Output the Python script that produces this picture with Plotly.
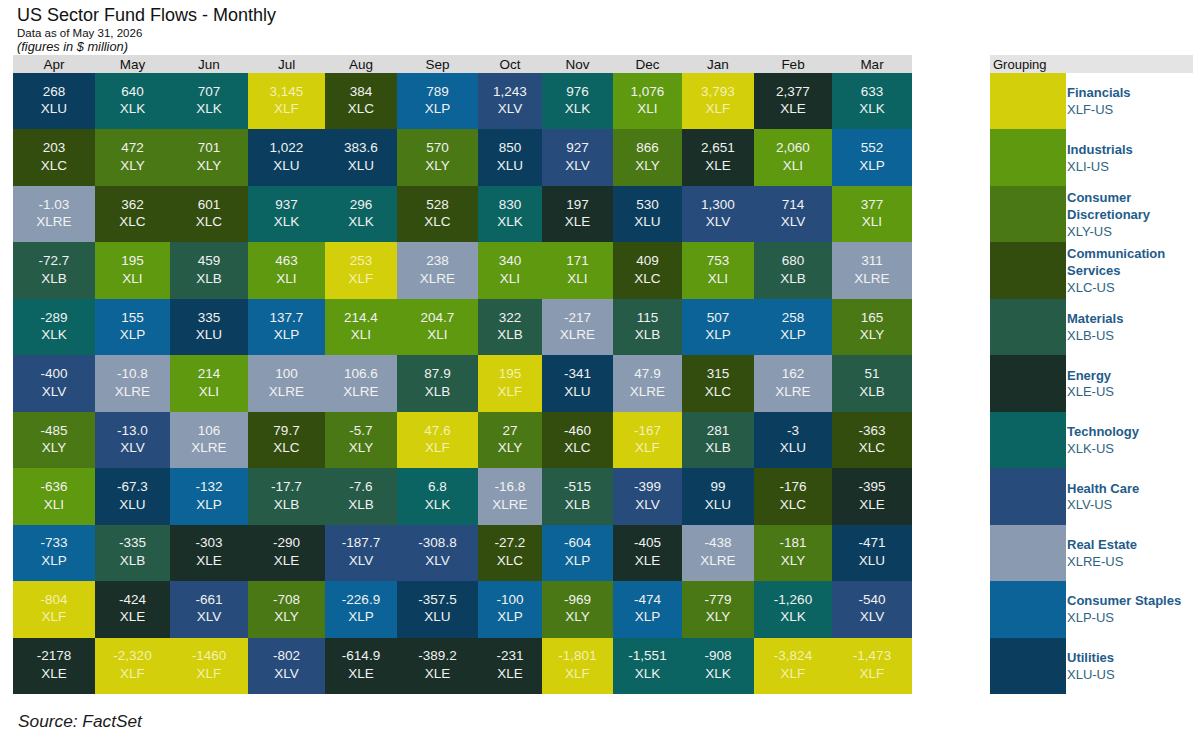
import plotly.graph_objects as go

# Monthly flows per sector ETF, ranked top to bottom within each month
MONTHS = ["Apr", "May", "Jun", "Jul", "Aug", "Sep", "Oct", "Nov", "Dec", "Jan", "Feb", "Mar"]

apr_flow = ["268", "203", "-1.03", "-72.7", "-289", "-400", "-485", "-636", "-733", "-804", "-2178"]
apr_etf = ["XLU", "XLC", "XLRE", "XLB", "XLK", "XLV", "XLY", "XLI", "XLP", "XLF", "XLE"]
may_flow = ["640", "472", "362", "195", "155", "-10.8", "-13.0", "-67.3", "-335", "-424", "-2,320"]
may_etf = ["XLK", "XLY", "XLC", "XLI", "XLP", "XLRE", "XLV", "XLU", "XLB", "XLE", "XLF"]
jun_flow = ["707", "701", "601", "459", "335", "214", "106", "-132", "-303", "-661", "-1460"]
jun_etf = ["XLK", "XLY", "XLC", "XLB", "XLU", "XLI", "XLRE", "XLP", "XLE", "XLV", "XLF"]
jul_flow = ["3,145", "1,022", "937", "463", "137.7", "100", "79.7", "-17.7", "-290", "-708", "-802"]
jul_etf = ["XLF", "XLU", "XLK", "XLI", "XLP", "XLRE", "XLC", "XLB", "XLE", "XLY", "XLV"]
aug_flow = ["384", "383.6", "296", "253", "214.4", "106.6", "-5.7", "-7.6", "-187.7", "-226.9", "-614.9"]
aug_etf = ["XLC", "XLU", "XLK", "XLF", "XLI", "XLRE", "XLY", "XLB", "XLV", "XLP", "XLE"]
sep_flow = ["789", "570", "528", "238", "204.7", "87.9", "47.6", "6.8", "-308.8", "-357.5", "-389.2"]
sep_etf = ["XLP", "XLY", "XLC", "XLRE", "XLI", "XLB", "XLF", "XLK", "XLV", "XLU", "XLE"]
oct_flow = ["1,243", "850", "830", "340", "322", "195", "27", "-16.8", "-27.2", "-100", "-231"]
oct_etf = ["XLV", "XLU", "XLK", "XLI", "XLB", "XLF", "XLY", "XLRE", "XLC", "XLP", "XLE"]
nov_flow = ["976", "927", "197", "171", "-217", "-341", "-460", "-515", "-604", "-969", "-1,801"]
nov_etf = ["XLK", "XLV", "XLE", "XLI", "XLRE", "XLU", "XLC", "XLB", "XLP", "XLY", "XLF"]
dec_flow = ["1,076", "866", "530", "409", "115", "47.9", "-167", "-399", "-405", "-474", "-1,551"]
dec_etf = ["XLI", "XLY", "XLU", "XLC", "XLB", "XLRE", "XLF", "XLV", "XLE", "XLP", "XLK"]
jan_flow = ["3,793", "2,651", "1,300", "753", "507", "315", "281", "99", "-438", "-779", "-908"]
jan_etf = ["XLF", "XLE", "XLV", "XLI", "XLP", "XLC", "XLB", "XLU", "XLRE", "XLY", "XLK"]
feb_flow = ["2,377", "2,060", "714", "680", "258", "162", "-3", "-176", "-181", "-1,260", "-3,824"]
feb_etf = ["XLE", "XLI", "XLV", "XLB", "XLP", "XLRE", "XLU", "XLC", "XLY", "XLK", "XLF"]
mar_flow = ["633", "552", "377", "311", "165", "51", "-363", "-395", "-471", "-540", "-1,473"]
mar_etf = ["XLK", "XLP", "XLI", "XLRE", "XLY", "XLB", "XLC", "XLE", "XLU", "XLV", "XLF"]

flows = [apr_flow, may_flow, jun_flow, jul_flow, aug_flow, sep_flow,
         oct_flow, nov_flow, dec_flow, jan_flow, feb_flow, mar_flow]
etfs = [apr_etf, may_etf, jun_etf, jul_etf, aug_etf, sep_etf,
        oct_etf, nov_etf, dec_etf, jan_etf, feb_etf, mar_etf]

SECTOR_ETFS = ["XLF", "XLI", "XLY", "XLC", "XLB", "XLE", "XLK", "XLV", "XLRE", "XLP", "XLU"]
SECTOR_NAMES = ["Financials", "Industrials", "Consumer<br>Discretionary", "Communication<br>Services",
                "Materials", "Energy", "Technology", "Health Care", "Real Estate",
                "Consumer Staples", "Utilities"]

# styling
SECTOR_COLORS = ["#d3cf0b", "#5e9910", "#4a7814", "#334d0e", "#265b48", "#192f27",
                 "#0b6461", "#274b7b", "#8a9bb1", "#0b6397", "#0b3e5e"]
COL_W = [82, 75, 78, 77, 72, 81, 64, 71, 69, 72, 78, 80]  # column widths in px
FONT = "Liberation Sans, Arial, sans-serif"
W, H = 1200, 737

n = len(SECTOR_ETFS)
n_rows = len(apr_flow)

edges = [0]
for w in COL_W:
    edges.append(edges[-1] + w)
centers = [(edges[i] + edges[i + 1]) / 2 for i in range(len(COL_W))]

# discrete colour scale, one band per sector
cscale = []
for i, c in enumerate(SECTOR_COLORS):
    cscale += [[i / n, c], [(i + 1) / n, c]]

z = [[SECTOR_ETFS.index(etfs[c][r]) for c in range(len(MONTHS))] for r in range(n_rows)]

tx, ty, tt, tc = [], [], [], []
for c in range(len(MONTHS)):
    for r in range(n_rows):
        tx.append(centers[c])
        ty.append(r)
        tt.append(f"{flows[c][r]}<br>{etfs[c][r]}")
        tc.append("#f4f1b0" if etfs[c][r] == "XLF" else "#f2f2f2")

fig = go.Figure()

fig.add_trace(go.Heatmap(
    z=z, x=edges, y=list(range(n_rows)),
    colorscale=cscale, zmin=-0.5, zmax=n - 0.5,
    showscale=False, hoverinfo="skip",
    xaxis="x", yaxis="y"
))

fig.add_trace(go.Scatter(
    x=tx, y=ty, text=tt, mode="text",
    textposition="middle center",
    textfont=dict(family=FONT, size=13.5, color=tc),
    hoverinfo="skip", showlegend=False,
    xaxis="x", yaxis="y"
))

# legend column ("Grouping")
fig.add_trace(go.Heatmap(
    z=[[i] for i in range(n)], x=[0], y=list(range(n)),
    colorscale=cscale, zmin=-0.5, zmax=n - 0.5,
    showscale=False, hoverinfo="skip",
    xaxis="x2", yaxis="y2"
))

legend_text = [f"<b>{nm}</b><br><span style='color:#2f6480'>{e}-US</span>"
               for nm, e in zip(SECTOR_NAMES, SECTOR_ETFS)]

grid_top = 1 - 73 / H
grid_bot = 1 - 694 / H
head_top = 1 - 55 / H

fig.update_layout(
    width=W, height=H,
    margin=dict(l=0, r=0, t=0, b=0),
    paper_bgcolor="white", plot_bgcolor="white",
    showlegend=False,
    font=dict(family=FONT),
    xaxis=dict(
        domain=[13 / W, 912 / W], range=[0, edges[-1]],
        side="top", tickvals=centers, ticktext=MONTHS, ticks="",
        tickfont=dict(family=FONT, size=13.5, color="#111111"),
        showgrid=False, zeroline=False, showline=False, fixedrange=True,
        anchor="y"
    ),
    yaxis=dict(
        domain=[grid_bot, grid_top], range=[n_rows - 0.5, -0.5],
        visible=False, fixedrange=True, anchor="x"
    ),
    xaxis2=dict(
        domain=[990 / W, 1066 / W], range=[-0.5, 0.5],
        visible=False, fixedrange=True, anchor="y2"
    ),
    yaxis2=dict(
        domain=[grid_bot, grid_top], range=[n - 0.5, -0.5],
        side="right", anchor="x2", tickvals=list(range(n)), ticktext=legend_text,
        ticks="", tickfont=dict(family=FONT, size=13, color="#1f5c8a"),
        showgrid=False, zeroline=False, showline=False, fixedrange=True
    ),
    shapes=[
        dict(type="rect", xref="paper", yref="paper", x0=13 / W, x1=912 / W,
             y0=grid_top, y1=head_top, fillcolor="#dcdcdc", line=dict(width=0), layer="below"),
        dict(type="rect", xref="paper", yref="paper", x0=990 / W, x1=1193 / W,
             y0=grid_top, y1=head_top, fillcolor="#e4e4e4", line=dict(width=0), layer="below"),
    ],
    annotations=[
        dict(text="US Sector Fund Flows - Monthly", x=15 / W, y=1 - 3 / H,
             xref="paper", yref="paper", xanchor="left", yanchor="top", showarrow=False,
             font=dict(family=FONT, size=18, color="#111111")),
        dict(text="Data as of May 31, 2026", x=15 / W, y=1 - 25 / H,
             xref="paper", yref="paper", xanchor="left", yanchor="top", showarrow=False,
             font=dict(family=FONT, size=11.5, color="#111111")),
        dict(text="<i>(figures in $ million)</i>", x=15 / W, y=1 - 37 / H,
             xref="paper", yref="paper", xanchor="left", yanchor="top", showarrow=False,
             font=dict(family=FONT, size=12.8, color="#111111")),
        dict(text="Grouping", x=991 / W, y=(grid_top + head_top) / 2,
             xref="paper", yref="paper", xanchor="left", yanchor="middle", showarrow=False,
             font=dict(family=FONT, size=13, color="#111111")),
        dict(text="<i>Source: FactSet</i>", x=16 / W, y=1 - 721 / H,
             xref="paper", yref="paper", xanchor="left", yanchor="middle", showarrow=False,
             font=dict(family=FONT, size=17.3, color="#1a1a1a")),
    ],
)

# drop the page's default body margin so the figure sits at the window origin
fig.write_html("out.html", config={"displayModeBar": False},
               post_script="document.body.style.margin='0';")
